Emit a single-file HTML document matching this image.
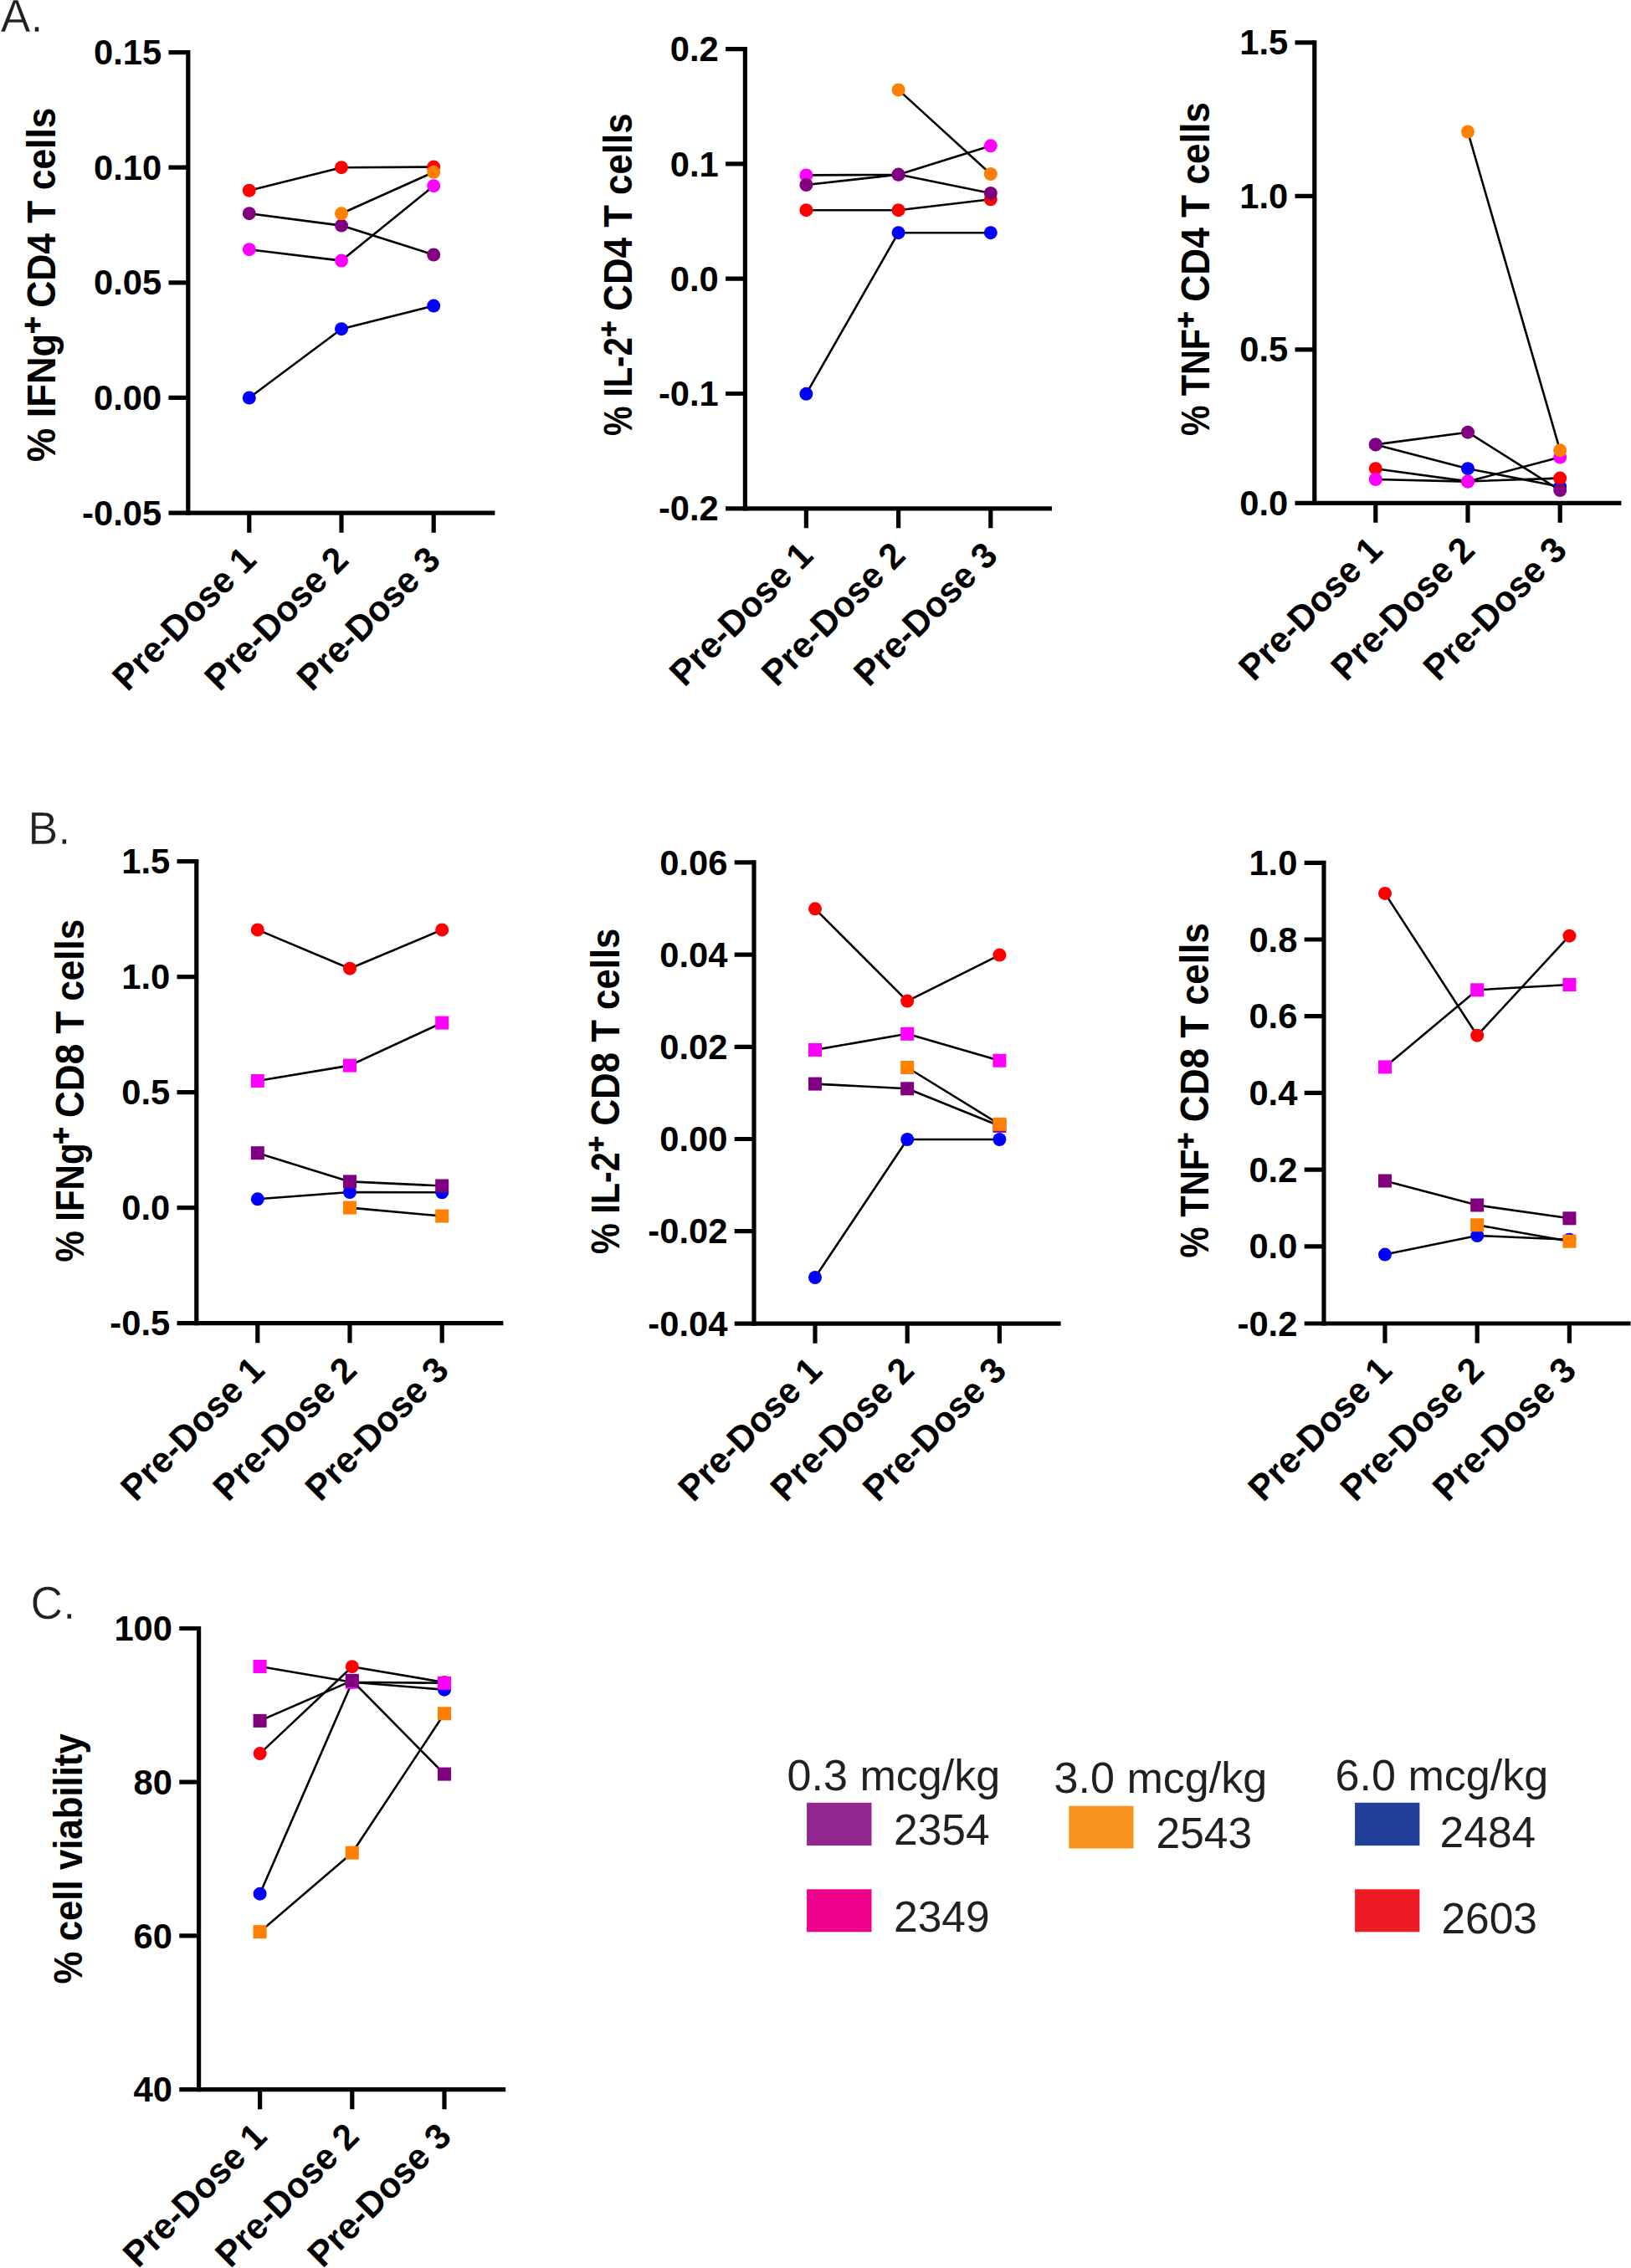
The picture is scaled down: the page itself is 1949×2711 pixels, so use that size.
<!DOCTYPE html>
<html lang="en"><head><meta charset="utf-8"><title>Figure</title>
<style>
html,body{margin:0;padding:0;background:#fff;}
body{width:1949px;height:2711px;overflow:hidden;}
svg{display:block;}
text{font-family:"Liberation Sans",Arial,Helvetica,sans-serif;}
.b{font-weight:bold;fill:#000;}
.tk{font-size:43.16px;}
.ti{font-size:48.36px;font-kerning:none;}
.ax{stroke:#000;stroke-width:5.2;fill:none;stroke-linecap:butt;}
.ln{stroke:#000;stroke-width:2.6;fill:none;stroke-linejoin:round;}
.lg{font-size:51.5px;fill:#231F20;}
.lh{font-size:52.1px;fill:#231F20;}
.pl{font-size:53.5px;fill:#231F20;stroke:#fff;stroke-width:0.45px;}
</style></head><body>
<svg width="1949" height="2711" viewBox="0 0 1949 2711">
<rect width="1949" height="2711" fill="#fff"/>
<g id="A1">
<path class="ax" d="M224.8 60 V615.8"/>
<path class="ax" d="M201.5 613.2 H591.4"/>
<path class="ax" d="M201.5 62.6 H224.8M201.5 200.2 H224.8M201.5 337.8 H224.8M201.5 475.4 H224.8M297.8 613.2 V636.7M408 613.2 V636.7M518.2 613.2 V636.7"/>
<text class="b tk" text-anchor="end" transform="translate(193.2 77.2) scale(0.967 1)">0.15</text>
<text class="b tk" text-anchor="end" transform="translate(193.2 214.8) scale(0.967 1)">0.10</text>
<text class="b tk" text-anchor="end" transform="translate(193.2 352.4) scale(0.967 1)">0.05</text>
<text class="b tk" text-anchor="end" transform="translate(193.2 490) scale(0.967 1)">0.00</text>
<text class="b tk" text-anchor="end" transform="translate(193.2 627.8) scale(0.967 1)">-0.05</text>
<text class="b tk" text-anchor="end" transform="translate(308.3 671.7) rotate(-45) scale(0.979 1)">Pre-Dose 1</text>
<text class="b tk" text-anchor="end" transform="translate(418.5 671.7) rotate(-45) scale(0.979 1)">Pre-Dose 2</text>
<text class="b tk" text-anchor="end" transform="translate(528.7 671.7) rotate(-45) scale(0.979 1)">Pre-Dose 3</text>
<text class="b ti" transform="translate(66.2 551.93) rotate(-90) scale(0.9345 1)">% IFNg</text>
<text class="b ti" transform="translate(66.2 367.82) rotate(-90) scale(0.918 1)">CD4 T cells</text>
<text class="b" font-size="35.5" text-anchor="middle" stroke="#000" stroke-width="0.8" transform="translate(50.5 388.7) rotate(-90)">+</text>
<polyline class="ln" points="297.8,475.5 408,393.2 518.2,365.6"/>
<circle cx="297.8" cy="475.5" r="8" fill="#0000FF"/>
<circle cx="408" cy="393.2" r="8" fill="#0000FF"/>
<circle cx="518.2" cy="365.6" r="8" fill="#0000FF"/>
<polyline class="ln" points="297.8,227.7 408,200.2 518.2,199.6"/>
<circle cx="297.8" cy="227.7" r="8" fill="#FF0000"/>
<circle cx="408" cy="200.2" r="8" fill="#FF0000"/>
<circle cx="518.2" cy="199.6" r="8" fill="#FF0000"/>
<polyline class="ln" points="297.8,298.2 408,311.6 518.2,222.2"/>
<circle cx="297.8" cy="298.2" r="8" fill="#FF00FF"/>
<circle cx="408" cy="311.6" r="8" fill="#FF00FF"/>
<circle cx="518.2" cy="222.2" r="8" fill="#FF00FF"/>
<polyline class="ln" points="297.8,255.2 408,269.6 518.2,304.5"/>
<circle cx="297.8" cy="255.2" r="8" fill="#800080"/>
<circle cx="408" cy="269.6" r="8" fill="#800080"/>
<circle cx="518.2" cy="304.5" r="8" fill="#800080"/>
<polyline class="ln" points="408,255.3 518.2,205.8"/>
<circle cx="408" cy="255.3" r="8" fill="#FF8000"/>
<circle cx="518.2" cy="205.8" r="8" fill="#FF8000"/>
</g>
<g id="A2">
<path class="ax" d="M890.4 56 V610.4"/>
<path class="ax" d="M867.1 607.8 H1257"/>
<path class="ax" d="M867.1 58.6 H890.4M867.1 195.9 H890.4M867.1 333.2 H890.4M867.1 470.5 H890.4M963.4 607.8 V631.3M1073.6 607.8 V631.3M1183.8 607.8 V631.3"/>
<text class="b tk" text-anchor="end" transform="translate(858.8 73.2) scale(0.967 1)">0.2</text>
<text class="b tk" text-anchor="end" transform="translate(858.8 210.5) scale(0.967 1)">0.1</text>
<text class="b tk" text-anchor="end" transform="translate(858.8 347.8) scale(0.967 1)">0.0</text>
<text class="b tk" text-anchor="end" transform="translate(858.8 485.1) scale(0.967 1)">-0.1</text>
<text class="b tk" text-anchor="end" transform="translate(858.8 622.4) scale(0.967 1)">-0.2</text>
<text class="b tk" text-anchor="end" transform="translate(973.9 666.3) rotate(-45) scale(0.979 1)">Pre-Dose 1</text>
<text class="b tk" text-anchor="end" transform="translate(1084.1 666.3) rotate(-45) scale(0.979 1)">Pre-Dose 2</text>
<text class="b tk" text-anchor="end" transform="translate(1194.3 666.3) rotate(-45) scale(0.979 1)">Pre-Dose 3</text>
<text class="b ti" transform="translate(755.4 521.1) rotate(-90) scale(0.8272 1)">% IL-2</text>
<text class="b ti" transform="translate(755.4 371.8) rotate(-90) scale(0.9075 1)">CD4 T cells</text>
<text class="b" font-size="33.5" text-anchor="middle" stroke="#000" stroke-width="0.8" transform="translate(738.94 393.3) rotate(-90)">+</text>
<polyline class="ln" points="963.4,470.8 1073.6,278.2 1183.8,278.2"/>
<circle cx="963.4" cy="470.8" r="8" fill="#0000FF"/>
<circle cx="1073.6" cy="278.2" r="8" fill="#0000FF"/>
<circle cx="1183.8" cy="278.2" r="8" fill="#0000FF"/>
<polyline class="ln" points="963.4,251.2 1073.6,251.2 1183.8,238.3"/>
<circle cx="963.4" cy="251.2" r="8" fill="#FF0000"/>
<circle cx="1073.6" cy="251.2" r="8" fill="#FF0000"/>
<circle cx="1183.8" cy="238.3" r="8" fill="#FF0000"/>
<polyline class="ln" points="963.4,209.4 1073.6,208.8 1183.8,174.3"/>
<circle cx="963.4" cy="209.4" r="8" fill="#FF00FF"/>
<circle cx="1073.6" cy="208.8" r="8" fill="#FF00FF"/>
<circle cx="1183.8" cy="174.3" r="8" fill="#FF00FF"/>
<polyline class="ln" points="963.4,221 1073.6,208.6 1183.8,231"/>
<circle cx="963.4" cy="221" r="8" fill="#800080"/>
<circle cx="1073.6" cy="208.6" r="8" fill="#800080"/>
<circle cx="1183.8" cy="231" r="8" fill="#800080"/>
<polyline class="ln" points="1073.6,107.4 1183.8,208"/>
<circle cx="1073.6" cy="107.4" r="8" fill="#FF8000"/>
<circle cx="1183.8" cy="208" r="8" fill="#FF8000"/>
</g>
<g id="A3">
<path class="ax" d="M1570.8 48.2 V603.9"/>
<path class="ax" d="M1547.5 601.3 H1937.4"/>
<path class="ax" d="M1547.5 50.8 H1570.8M1547.5 234.3 H1570.8M1547.5 417.8 H1570.8M1643.8 601.3 V624.8M1754 601.3 V624.8M1864.2 601.3 V624.8"/>
<text class="b tk" text-anchor="end" transform="translate(1539.2 65.4) scale(0.967 1)">1.5</text>
<text class="b tk" text-anchor="end" transform="translate(1539.2 248.9) scale(0.967 1)">1.0</text>
<text class="b tk" text-anchor="end" transform="translate(1539.2 432.4) scale(0.967 1)">0.5</text>
<text class="b tk" text-anchor="end" transform="translate(1539.2 615.9) scale(0.967 1)">0.0</text>
<text class="b tk" text-anchor="end" transform="translate(1654.3 659.8) rotate(-45) scale(0.979 1)">Pre-Dose 1</text>
<text class="b tk" text-anchor="end" transform="translate(1764.5 659.8) rotate(-45) scale(0.979 1)">Pre-Dose 2</text>
<text class="b tk" text-anchor="end" transform="translate(1874.7 659.8) rotate(-45) scale(0.979 1)">Pre-Dose 3</text>
<text class="b ti" transform="translate(1445 521.12) rotate(-90) scale(0.8504 1)">% TNF</text>
<text class="b ti" transform="translate(1445 360.72) rotate(-90) scale(0.9153 1)">CD4 T cells</text>
<text class="b" font-size="34.5" text-anchor="middle" stroke="#000" stroke-width="0.8" transform="translate(1428.57 382.3) rotate(-90)">+</text>
<polyline class="ln" points="1643.8,531.4 1754,560.2 1864.2,581.8"/>
<circle cx="1643.8" cy="531.4" r="8" fill="#0000FF"/>
<circle cx="1754" cy="560.2" r="8" fill="#0000FF"/>
<circle cx="1864.2" cy="581.8" r="8" fill="#0000FF"/>
<polyline class="ln" points="1643.8,560.2 1754,575.4 1864.2,571.6"/>
<circle cx="1643.8" cy="560.2" r="8" fill="#FF0000"/>
<circle cx="1754" cy="575.4" r="8" fill="#FF0000"/>
<circle cx="1864.2" cy="571.6" r="8" fill="#FF0000"/>
<polyline class="ln" points="1643.8,573 1754,575.6 1864.2,546.5"/>
<circle cx="1643.8" cy="573" r="8" fill="#FF00FF"/>
<circle cx="1754" cy="575.6" r="8" fill="#FF00FF"/>
<circle cx="1864.2" cy="546.5" r="8" fill="#FF00FF"/>
<polyline class="ln" points="1643.8,531.4 1754,516.7 1864.2,586.1"/>
<circle cx="1643.8" cy="531.4" r="8" fill="#800080"/>
<circle cx="1754" cy="516.7" r="8" fill="#800080"/>
<circle cx="1864.2" cy="586.1" r="8" fill="#800080"/>
<polyline class="ln" points="1754,157.5 1864.2,538.3"/>
<circle cx="1754" cy="157.5" r="8" fill="#FF8000"/>
<circle cx="1864.2" cy="538.3" r="8" fill="#FF8000"/>
</g>
<g id="B1">
<path class="ax" d="M234.8 1027.1 V1584.3"/>
<path class="ax" d="M211.5 1581.7 H601.4"/>
<path class="ax" d="M211.5 1029.7 H234.8M211.5 1167.7 H234.8M211.5 1305.7 H234.8M211.5 1443.7 H234.8M307.8 1581.7 V1605.2M418 1581.7 V1605.2M528.2 1581.7 V1605.2"/>
<text class="b tk" text-anchor="end" transform="translate(203.2 1044.3) scale(0.967 1)">1.5</text>
<text class="b tk" text-anchor="end" transform="translate(203.2 1182.3) scale(0.967 1)">1.0</text>
<text class="b tk" text-anchor="end" transform="translate(203.2 1320.3) scale(0.967 1)">0.5</text>
<text class="b tk" text-anchor="end" transform="translate(203.2 1458.3) scale(0.967 1)">0.0</text>
<text class="b tk" text-anchor="end" transform="translate(203.2 1596.3) scale(0.967 1)">-0.5</text>
<text class="b tk" text-anchor="end" transform="translate(318.3 1640.2) rotate(-45) scale(0.979 1)">Pre-Dose 1</text>
<text class="b tk" text-anchor="end" transform="translate(428.5 1640.2) rotate(-45) scale(0.979 1)">Pre-Dose 2</text>
<text class="b tk" text-anchor="end" transform="translate(538.7 1640.2) rotate(-45) scale(0.979 1)">Pre-Dose 3</text>
<text class="b ti" transform="translate(100.3 1508.54) rotate(-90) scale(0.8668 1)">% IFNg</text>
<text class="b ti" transform="translate(100.3 1335.9) rotate(-90) scale(0.9098 1)">CD8 T cells</text>
<text class="b" font-size="35.5" text-anchor="middle" stroke="#000" stroke-width="0.8" transform="translate(84.8 1357.3) rotate(-90)">+</text>
<polyline class="ln" points="307.8,1433.3 418,1425 528.2,1425.3"/>
<circle cx="307.8" cy="1433.3" r="8" fill="#0000FF"/>
<circle cx="418" cy="1425" r="8" fill="#0000FF"/>
<circle cx="528.2" cy="1425.3" r="8" fill="#0000FF"/>
<polyline class="ln" points="307.8,1111.4 418,1157.7 528.2,1111.4"/>
<circle cx="307.8" cy="1111.4" r="8" fill="#FF0000"/>
<circle cx="418" cy="1157.7" r="8" fill="#FF0000"/>
<circle cx="528.2" cy="1111.4" r="8" fill="#FF0000"/>
<polyline class="ln" points="307.8,1292 418,1273.6 528.2,1222.6"/>
<rect x="299.8" y="1284" width="16" height="16" fill="#FF00FF"/>
<rect x="410" y="1265.6" width="16" height="16" fill="#FF00FF"/>
<rect x="520.2" y="1214.6" width="16" height="16" fill="#FF00FF"/>
<polyline class="ln" points="307.8,1378.2 418,1412.4 528.2,1417.5"/>
<rect x="299.8" y="1370.2" width="16" height="16" fill="#800080"/>
<rect x="410" y="1404.4" width="16" height="16" fill="#800080"/>
<rect x="520.2" y="1409.5" width="16" height="16" fill="#800080"/>
<polyline class="ln" points="418,1443.6 528.2,1453.6"/>
<rect x="410" y="1435.6" width="16" height="16" fill="#FF8000"/>
<rect x="520.2" y="1445.6" width="16" height="16" fill="#FF8000"/>
</g>
<g id="B2">
<path class="ax" d="M901 1028.3 V1584.8"/>
<path class="ax" d="M877.7 1582.2 H1267.6"/>
<path class="ax" d="M877.7 1030.9 H901M877.7 1141.1 H901M877.7 1251.3 H901M877.7 1361.5 H901M877.7 1471.7 H901M974 1582.2 V1605.7M1084.2 1582.2 V1605.7M1194.4 1582.2 V1605.7"/>
<text class="b tk" text-anchor="end" transform="translate(869.4 1045.5) scale(0.967 1)">0.06</text>
<text class="b tk" text-anchor="end" transform="translate(869.4 1155.7) scale(0.967 1)">0.04</text>
<text class="b tk" text-anchor="end" transform="translate(869.4 1265.9) scale(0.967 1)">0.02</text>
<text class="b tk" text-anchor="end" transform="translate(869.4 1376.1) scale(0.967 1)">0.00</text>
<text class="b tk" text-anchor="end" transform="translate(869.4 1486.3) scale(0.967 1)">-0.02</text>
<text class="b tk" text-anchor="end" transform="translate(869.4 1596.8) scale(0.967 1)">-0.04</text>
<text class="b tk" text-anchor="end" transform="translate(984.5 1640.7) rotate(-45) scale(0.979 1)">Pre-Dose 1</text>
<text class="b tk" text-anchor="end" transform="translate(1094.7 1640.7) rotate(-45) scale(0.979 1)">Pre-Dose 2</text>
<text class="b tk" text-anchor="end" transform="translate(1204.9 1640.7) rotate(-45) scale(0.979 1)">Pre-Dose 3</text>
<text class="b ti" transform="translate(739.9 1499.03) rotate(-90) scale(0.8552 1)">% IL-2</text>
<text class="b ti" transform="translate(739.9 1345.5) rotate(-90) scale(0.9052 1)">CD8 T cells</text>
<text class="b" font-size="33.5" text-anchor="middle" stroke="#000" stroke-width="0.8" transform="translate(723.84 1367.5) rotate(-90)">+</text>
<polyline class="ln" points="974,1527 1084.2,1362 1194.4,1362"/>
<circle cx="974" cy="1527" r="8" fill="#0000FF"/>
<circle cx="1084.2" cy="1362" r="8" fill="#0000FF"/>
<circle cx="1194.4" cy="1362" r="8" fill="#0000FF"/>
<polyline class="ln" points="974,1086.3 1084.2,1196.6 1194.4,1141.6"/>
<circle cx="974" cy="1086.3" r="8" fill="#FF0000"/>
<circle cx="1084.2" cy="1196.6" r="8" fill="#FF0000"/>
<circle cx="1194.4" cy="1141.6" r="8" fill="#FF0000"/>
<polyline class="ln" points="974,1254.9 1084.2,1235.8 1194.4,1267.7"/>
<rect x="966" y="1246.9" width="16" height="16" fill="#FF00FF"/>
<rect x="1076.2" y="1227.8" width="16" height="16" fill="#FF00FF"/>
<rect x="1186.4" y="1259.7" width="16" height="16" fill="#FF00FF"/>
<polyline class="ln" points="974,1295.6 1084.2,1301.3 1194.4,1345.8"/>
<rect x="966" y="1287.6" width="16" height="16" fill="#800080"/>
<rect x="1076.2" y="1293.3" width="16" height="16" fill="#800080"/>
<rect x="1186.4" y="1337.8" width="16" height="16" fill="#800080"/>
<polyline class="ln" points="1084.2,1276 1194.4,1343.8"/>
<rect x="1076.2" y="1268" width="16" height="16" fill="#FF8000"/>
<rect x="1186.4" y="1335.8" width="16" height="16" fill="#FF8000"/>
</g>
<g id="B3">
<path class="ax" d="M1582 1028.7 V1584.6"/>
<path class="ax" d="M1558.7 1582 H1948.6"/>
<path class="ax" d="M1558.7 1031.3 H1582M1558.7 1123 H1582M1558.7 1214.7 H1582M1558.7 1306.4 H1582M1558.7 1398.1 H1582M1558.7 1489.8 H1582M1655 1582 V1605.5M1765.2 1582 V1605.5M1875.4 1582 V1605.5"/>
<text class="b tk" text-anchor="end" transform="translate(1550.4 1045.9) scale(0.967 1)">1.0</text>
<text class="b tk" text-anchor="end" transform="translate(1550.4 1137.6) scale(0.967 1)">0.8</text>
<text class="b tk" text-anchor="end" transform="translate(1550.4 1229.3) scale(0.967 1)">0.6</text>
<text class="b tk" text-anchor="end" transform="translate(1550.4 1321) scale(0.967 1)">0.4</text>
<text class="b tk" text-anchor="end" transform="translate(1550.4 1412.7) scale(0.967 1)">0.2</text>
<text class="b tk" text-anchor="end" transform="translate(1550.4 1504.4) scale(0.967 1)">0.0</text>
<text class="b tk" text-anchor="end" transform="translate(1550.4 1596.6) scale(0.967 1)">-0.2</text>
<text class="b tk" text-anchor="end" transform="translate(1665.5 1640.5) rotate(-45) scale(0.979 1)">Pre-Dose 1</text>
<text class="b tk" text-anchor="end" transform="translate(1775.7 1640.5) rotate(-45) scale(0.979 1)">Pre-Dose 2</text>
<text class="b tk" text-anchor="end" transform="translate(1885.9 1640.5) rotate(-45) scale(0.979 1)">Pre-Dose 3</text>
<text class="b ti" transform="translate(1444 1503.54) rotate(-90) scale(0.8633 1)">% TNF</text>
<text class="b ti" transform="translate(1444 1341.21) rotate(-90) scale(0.913 1)">CD8 T cells</text>
<text class="b" font-size="34.5" text-anchor="middle" stroke="#000" stroke-width="0.8" transform="translate(1428.87 1363.6) rotate(-90)">+</text>
<polyline class="ln" points="1655,1499.6 1765.2,1477 1875.4,1481.7"/>
<circle cx="1655" cy="1499.6" r="8" fill="#0000FF"/>
<circle cx="1765.2" cy="1477" r="8" fill="#0000FF"/>
<circle cx="1875.4" cy="1481.7" r="8" fill="#0000FF"/>
<polyline class="ln" points="1655,1067.9 1765.2,1237.7 1875.4,1118.7"/>
<circle cx="1655" cy="1067.9" r="8" fill="#FF0000"/>
<circle cx="1765.2" cy="1237.7" r="8" fill="#FF0000"/>
<circle cx="1875.4" cy="1118.7" r="8" fill="#FF0000"/>
<polyline class="ln" points="1655,1275.4 1765.2,1183.3 1875.4,1177"/>
<rect x="1647" y="1267.4" width="16" height="16" fill="#FF00FF"/>
<rect x="1757.2" y="1175.3" width="16" height="16" fill="#FF00FF"/>
<rect x="1867.4" y="1169" width="16" height="16" fill="#FF00FF"/>
<polyline class="ln" points="1655,1411.5 1765.2,1440.5 1875.4,1456.3"/>
<rect x="1647" y="1403.5" width="16" height="16" fill="#800080"/>
<rect x="1757.2" y="1432.5" width="16" height="16" fill="#800080"/>
<rect x="1867.4" y="1448.3" width="16" height="16" fill="#800080"/>
<polyline class="ln" points="1765.2,1464.3 1875.4,1483.7"/>
<rect x="1757.2" y="1456.3" width="16" height="16" fill="#FF8000"/>
<rect x="1867.4" y="1475.7" width="16" height="16" fill="#FF8000"/>
</g>
<g id="C">
<path class="ax" d="M237.6 1943.9 V2500.3"/>
<path class="ax" d="M214.3 2497.7 H604.2"/>
<path class="ax" d="M214.3 1946.5 H237.6M214.3 2130.2 H237.6M214.3 2313.9 H237.6M310.6 2497.7 V2521.2M420.8 2497.7 V2521.2M531 2497.7 V2521.2"/>
<text class="b tk" text-anchor="end" transform="translate(206 1961.1) scale(0.967 1)">100</text>
<text class="b tk" text-anchor="end" transform="translate(206 2144.8) scale(0.967 1)">80</text>
<text class="b tk" text-anchor="end" transform="translate(206 2328.5) scale(0.967 1)">60</text>
<text class="b tk" text-anchor="end" transform="translate(206 2512.3) scale(0.967 1)">40</text>
<text class="b tk" text-anchor="end" transform="translate(321.1 2556.2) rotate(-45) scale(0.979 1)">Pre-Dose 1</text>
<text class="b tk" text-anchor="end" transform="translate(431.3 2556.2) rotate(-45) scale(0.979 1)">Pre-Dose 2</text>
<text class="b tk" text-anchor="end" transform="translate(541.5 2556.2) rotate(-45) scale(0.979 1)">Pre-Dose 3</text>
<text class="b ti" transform="translate(97.6 2371.39) rotate(-90) scale(0.9051 1)">% cell viability</text>
<polyline class="ln" points="310.6,2263.7 420.8,2010.7 531,2019.7"/>
<circle cx="310.6" cy="2263.7" r="8" fill="#0000FF"/>
<circle cx="420.8" cy="2010.7" r="8" fill="#0000FF"/>
<circle cx="531" cy="2019.7" r="8" fill="#0000FF"/>
<polyline class="ln" points="310.6,2096.1 420.8,1992.2 531,2011"/>
<circle cx="310.6" cy="2096.1" r="8" fill="#FF0000"/>
<circle cx="420.8" cy="1992.2" r="8" fill="#FF0000"/>
<circle cx="531" cy="2011" r="8" fill="#FF0000"/>
<polyline class="ln" points="310.6,1992 420.8,2010.7 531,2011.8"/>
<rect x="302.6" y="1984" width="16" height="16" fill="#FF00FF"/>
<rect x="412.8" y="2002.7" width="16" height="16" fill="#FF00FF"/>
<rect x="523" y="2003.8" width="16" height="16" fill="#FF00FF"/>
<polyline class="ln" points="310.6,2056.9 420.8,2008.9 531,2120.6"/>
<rect x="302.6" y="2048.9" width="16" height="16" fill="#800080"/>
<rect x="412.8" y="2000.9" width="16" height="16" fill="#800080"/>
<rect x="523" y="2112.6" width="16" height="16" fill="#800080"/>
<polyline class="ln" points="310.6,2309.2 420.8,2214.7 531,2048.3"/>
<rect x="302.6" y="2301.2" width="16" height="16" fill="#FF8000"/>
<rect x="412.8" y="2206.7" width="16" height="16" fill="#FF8000"/>
<rect x="523" y="2040.3" width="16" height="16" fill="#FF8000"/>
</g>
<text class="pl" transform="translate(0.7 38.3) scale(1 1.035)">A.</text>
<text class="pl" transform="translate(33.6 1008.8) scale(1 1.035)">B.</text>
<text class="pl" transform="translate(36.6 1935.2) scale(1 1.035)">C.</text>
<g id="legend">
<text class="lh" x="940.5" y="2139.6">0.3 mcg/kg</text>
<rect x="964.1" y="2154.8" width="77.4" height="51.3" fill="#92278F"/>
<text class="lg" x="1068" y="2205.1">2354</text>
<rect x="964.1" y="2258.3" width="77.4" height="51" fill="#EC008C"/>
<text class="lg" x="1068" y="2308.6">2349</text>
<text class="lh" x="1259.5" y="2143.3">3.0 mcg/kg</text>
<rect x="1277.3" y="2158.7" width="77.2" height="50.8" fill="#F7941D"/>
<text class="lg" x="1381.5" y="2208.8">2543</text>
<text class="lh" x="1595.5" y="2139.6">6.0 mcg/kg</text>
<rect x="1619.1" y="2154.8" width="77.3" height="51.3" fill="#21409A"/>
<text class="lg" x="1720.6" y="2207.5">2484</text>
<rect x="1619.1" y="2258.3" width="77.3" height="51" fill="#ED1C24"/>
<text class="lg" x="1722.4" y="2311">2603</text>
</g>
</svg></body></html>
